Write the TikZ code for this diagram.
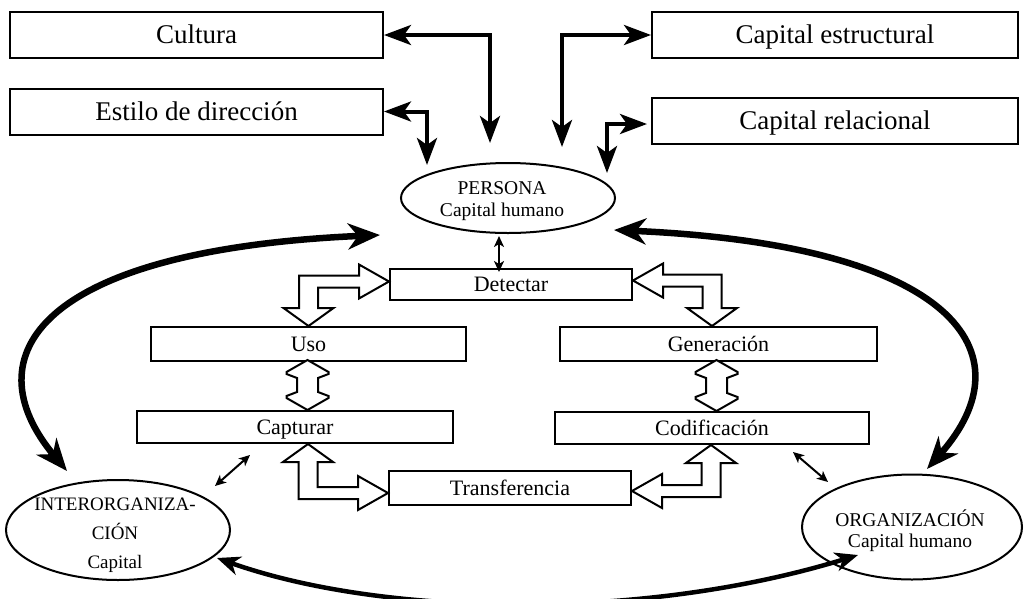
\documentclass[tikz,border=0pt]{standalone}
\usepackage{fontspec}
\setmainfont{Liberation Serif}
\usetikzlibrary{arrows.meta,shapes.geometric,calc}

% L-shaped hollow double arrow: #1 tip of the horizontal arm, #2 tip of the
% vertical arm, #3 = +1/-1 direction of the horizontal tip, #4 = +1/-1
% direction of the vertical tip (downwards positive)
\newcommand\hollowL[4]{%
  \draw[blockarrow] (#1)
    -- ($(#1)+({-(#3)*30},{-(#4)*17})$)
    -- ($(#1)+({-(#3)*30},{-(#4)*6})$)
    -- ($(#2|-#1)+({-(#3)*9.5},{-(#4)*6})$)
    -- ($(#2)+({-(#3)*9.5},{-(#4)*18})$)
    -- ($(#2)+({-(#3)*25},{-(#4)*18})$)
    -- (#2)
    -- ($(#2)+({(#3)*25},{-(#4)*18})$)
    -- ($(#2)+({(#3)*9.5},{-(#4)*18})$)
    -- ($(#2|-#1)+({(#3)*9.5},{(#4)*6})$)
    -- ($(#1)+({-(#3)*30},{(#4)*6})$)
    -- ($(#1)+({-(#3)*30},{(#4)*17})$)
    -- cycle;}

% straight vertical hollow double arrow from tip #1 (top) to tip #2 (bottom)
\newcommand\hollowV[2]{%
  \draw[blockarrow] (#1)
    -- ($(#1)+(21,12)$) -- ($(#1)+(21,14)$) -- ($(#1)+(10.5,18)$)
    -- ($(#2)+(10.5,-18)$) -- ($(#2)+(21,-14)$) -- ($(#2)+(21,-12)$)
    -- (#2)
    -- ($(#2)+(-21,-12)$) -- ($(#2)+(-21,-14)$) -- ($(#2)+(-10.5,-18)$)
    -- ($(#1)+(-10.5,18)$) -- ($(#1)+(-21,14)$) -- ($(#1)+(-21,12)$)
    -- cycle;}

\begin{document}
\begin{tikzpicture}[x=1pt,y=-1pt,
  every node/.style={inner sep=0pt},
  topbox/.style={draw, line width=2pt, minimum height=46pt,
    font=\fontsize{27}{32}\selectfont, text height=17.9pt, text depth=0pt},
  stepbox/.style={draw, line width=2pt,
    font=\fontsize{22}{26}\selectfont, text height=14.6pt, text depth=0pt},
  bubble/.style={draw, ellipse, line width=2pt},
  bubbletext/.style={align=center},
  linkarrow/.style={line width=4pt,
    {Stealth[length=27pt,width=20pt,inset=7pt]}-{Stealth[length=27pt,width=20pt,inset=7pt]}},
  flowarrow/.style={line width=6.5pt,
    {Stealth[length=32pt,width=26pt,inset=10pt]}-{Stealth[length=32pt,width=26pt,inset=10pt]}},
  basearrow/.style={line width=4.5pt,
    {Stealth[length=23pt,width=19pt,inset=7pt]}-{Stealth[length=23pt,width=19pt,inset=7pt]}},
  thinarrow/.style={line width=2pt,
    {Stealth[length=11pt,width=10pt,inset=3pt]}-{Stealth[length=11pt,width=10pt,inset=3pt]}},
  blockarrow/.style={draw, fill=white, line width=2pt, line join=miter},
]
\fill[white] (0,0) rectangle (1026,598);
\useasboundingbox (0,0) rectangle (1026,598);

% outer factors
\node[topbox, minimum width=373pt] (cul) at (196.5,35) {Cultura};
\node[topbox, minimum width=373pt] (est) at (196.5,111.5) {Estilo de dirección};
\node[topbox, minimum width=366pt] (ces) at (835,35) {Capital estructural};
\node[topbox, minimum width=366pt] (cre) at (835,121) {Capital relacional};

% knowledge holders
\node[bubble, minimum width=214pt, minimum height=70pt,
  label={[bubbletext, font=\fontsize{19.5}{22}\selectfont, xshift=-6pt, yshift=-3pt]center:PERSONA\\Capital humano}]
  (per) at (508,198) {};
\node[bubble, minimum width=224pt, minimum height=100pt,
  label={[bubbletext, font=\fontsize{19}{29}\selectfont, xshift=-3pt, yshift=-5pt]center:INTERORGANIZA-\\CIÓN\\Capital}]
  (int) at (118,530) {};
\node[bubble, minimum width=220pt, minimum height=105pt,
  label={[bubbletext, font=\fontsize{19.5}{21}\selectfont, xshift=-2pt, yshift=-4pt]center:ORGANIZACIÓN\\Capital humano}]
  (org) at (912,527) {};

% knowledge process steps
\node[stepbox, minimum width=242pt, minimum height=31pt] (det) at (511,284.5) {Detectar};
\node[stepbox, minimum width=315pt, minimum height=34pt] (uso) at (308.5,344) {Uso};
\node[stepbox, minimum width=317pt, minimum height=34pt] (gen) at (718.5,344) {Generación};
\node[stepbox, minimum width=316pt, minimum height=32pt] (cap) at (295,427) {Capturar};
\node[stepbox, minimum width=314pt, minimum height=32pt] (cod) at (712,428) {Codificación};
\node[stepbox, minimum width=242pt, minimum height=34pt] (tra) at (510,488) {Transferencia};

% links between the factors and the person
\coordinate (cuT) at (490,143);
\coordinate (esT) at (427,165);
\coordinate (ceT) at (562,147);
\coordinate (crT) at (607,173);
\draw[linkarrow] (cuT) |- (cul.east);
\draw[linkarrow] (esT) |- (est.east);
\draw[linkarrow] (ceT) |- (ces.west);
\draw[linkarrow] (crT) |- ($(cre.west)+(-4,3)$);

% large flows between the three holders
\coordinate (perL) at (380,235);
\coordinate (perR) at (614,230);
\coordinate (intT) at (67,471);
\coordinate (intB) at (217,558);
\coordinate (orgT) at (927,469);
\coordinate (orgB) at (858,555);
\draw[flowarrow] (perL) .. controls (40,250) and (-30,355) .. (intT);
\draw[flowarrow] (perR) .. controls (955,245) and (1030,353) .. (orgT);
\draw[basearrow] (intB) .. controls (380,616) and (640,622) .. (orgB);

% small links from the holders to the process
\draw[thinarrow] ($(det.north)+(-12,4)$) -- ($(det.north)+(-12,-32)$);
\coordinate (capI) at (250,455);
\coordinate (intC) at (215,486);
\coordinate (codO) at (793,452);
\coordinate (orgC) at (828,482);
\draw[thinarrow] (capI) -- (intC);
\draw[thinarrow] (codO) -- (orgC);

% process cycle
\coordinate (duH) at ($(det.west)+(0,-3)$);
\coordinate (duV) at (uso.north);
\coordinate (dgH) at ($(det.east)+(0,-4)$);
\coordinate (dgV) at ($(gen.north)+(-6.5,0)$);
\coordinate (ctH) at ($(tra.west)+(0,5)$);
\coordinate (ctV) at ($(cap.south)+(13,0)$);
\coordinate (ktH) at ($(tra.east)+(0,3)$);
\coordinate (ktV) at ($(cod.south)+(-1,0)$);
\hollowL{duH}{duV}{1}{1}
\hollowL{dgH}{dgV}{-1}{1}
\hollowL{ctH}{ctV}{1}{-1}
\hollowL{ktH}{ktV}{-1}{-1}
\coordinate (ucT) at ($(uso.south)+(-1,-2)$);
\coordinate (ucB) at ($(uso.south |- cap.north)+(-1,0)$);
\coordinate (gcT) at ($(gen.south)+(-2,-2)$);
\coordinate (gcB) at ($(gen.south |- cod.north)+(-2,0)$);
\hollowV{ucT}{ucB}
\hollowV{gcT}{gcB}
\end{tikzpicture}
\end{document}
